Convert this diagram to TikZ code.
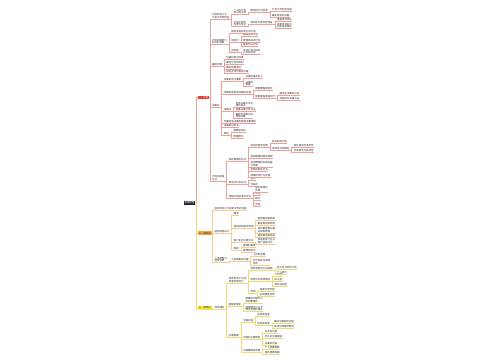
\documentclass[tikz,border=0pt]{standalone}
\usepackage{fontspec}
\newfontfamily\cjk{Noto Sans CJK SC}
\usepackage{tikz}

\definecolor{rootc}{HTML}{1F2233}
\definecolor{planc}{HTML}{E8382F}
\definecolor{planl}{HTML}{F0A09A}
\definecolor{orgc}{HTML}{F4A43A}
\definecolor{orgl}{HTML}{F6CC90}
\definecolor{leadc}{HTML}{F5E43A}
\definecolor{leadl}{HTML}{ECDD72}

\tikzset{
  topic/.style={anchor=west, inner sep=0.4mm, align=left, text=black!85,
    font=\cjk\fontsize{7}{7.3}\selectfont},
  rootbox/.style={fill=rootc, text=white, inner sep=0.8mm,
    font=\cjk\fontsize{7}{7.3}\selectfont},
  branchbox/.style={anchor=west, inner sep=0.7mm,
    font=\cjk\fontsize{7}{7.3}\selectfont},
  planline/.style={draw=planl, line width=0.3mm},
  orgline/.style={draw=orgl, line width=0.3mm},
  leadline/.style={draw=leadl, line width=0.3mm},
}

\begin{document}
\begin{tikzpicture}[x=1mm, y=-1mm]

    \path[use as bounding box] (0,0) rectangle (500,360);

    \node[rootbox] (root) at (189.5,203) {管理原理};

    \node[branchbox, fill=planc, text=white, xshift=2.5mm] (plan) at (root.east |- 0,97.5) {一、计划};
    \node[branchbox, fill=orgc, text=black!85, xshift=2.5mm] (org) at (root.east |- 0,233.2) {二、组织论};
    \node[branchbox, fill=leadc, text=black!85, xshift=2.5mm] (lead) at (root.east |- 0,308) {三、领导论};

    % plan
    \node[topic, xshift=2.5mm] (p1) at (plan.east |- 0,16) {计划的含义与\\计划工作的特征};
    \node[topic, xshift=3.5mm] (p1a) at (p1.east |- 0,11.5) {广义的计划\\狭义的计划};
    \node[topic, xshift=3.5mm] (p1a1) at (p1a.east |- 0,11) {制定执行与检查};
    \node[topic, xshift=3.5mm] (p1a1a) at (p1a1.east |- 0,10) {计划工作的全过程};
    \node[topic, xshift=3.5mm] (p1a1b) at (p1a1.east |- 0,15.5) {确定目标的过程};
    \node[topic, xshift=3.5mm] (p1b) at (p1.east |- 0,23.5) {计划工作的\\性质与特点};
    \node[topic, xshift=3.5mm] (p1b1) at (p1b.east |- 0,23) {目的性与首位性特征};
    \node[topic, xshift=3.5mm] (p1b1a) at (p1b1.east |- 0,20) {普遍性的特征};
    \node[topic, xshift=3.5mm] (p1b1b) at (p1b1.east |- 0,25.5) {效率性特征与\\创新性的特征};

    \node[topic, xshift=2.5mm] (p2) at (plan.east |- 0,41.5) {计划的种类与\\划分的标准};
    \node[topic, xshift=3.5mm] (p2a) at (p2.east |- 0,32) {按时间长短划分的计划};
    \node[topic, xshift=3.5mm] (p2b) at (p2.east |- 0,41) {按层次};
    \node[topic, xshift=3.5mm] (p2b1) at (p2b.east |- 0,35) {战略性的计划};
    \node[topic, xshift=3.5mm] (p2b2) at (p2b.east |- 0,40.3) {管理层战术计划};
    \node[topic, xshift=3.5mm] (p2b3) at (p2b.east |- 0,45) {基层作业计划};
    \node[topic, xshift=3.5mm] (p2c) at (p2.east |- 0,51) {按内容};
    \node[topic, xshift=3.5mm] (p2c1) at (p2c.east |- 0,51.5) {专项计划与综合\\计划的区别};

    \node[topic, xshift=2.5mm] (p3) at (plan.east |- 0,65) {编制步骤};
    \node[topic, xshift=3.5mm] (p3a) at (p3.east |- 0,57.7) {估量机会与环境};
    \node[topic, xshift=3.5mm] (p3b) at (p3.east |- 0,62.3) {确定计划的目标};
    \node[topic, xshift=3.5mm] (p3c) at (p3.east |- 0,67.3) {确定前提条件};
    \node[topic, xshift=3.5mm] (p3d) at (p3.east |- 0,71.7) {拟定并评价各种方案};

    \node[topic, xshift=2.5mm] (p4) at (plan.east |- 0,106) {决策论};
    \node[topic, xshift=3.5mm] (p4a) at (p4.east |- 0,80) {决策的含义要素};
    \node[topic, xshift=3.5mm] (p4a1) at (p4a.east |- 0,77) {决策的基本定义};
    \node[topic, xshift=3.5mm] (p4a2) at (p4a.east |- 0,83.5) {决策的\\要素};
    \node[topic, xshift=3.5mm] (p4b) at (p4.east |- 0,92.3) {决策的类型及决策的过程};
    \node[topic, xshift=3.5mm] (p4b1) at (p4b.east |- 0,89) {按重要程度划分};
    \node[topic, xshift=3.5mm] (p4b2) at (p4b.east |- 0,96.3) {按重复程度来划分};
    \node[topic, xshift=3.5mm] (p4b2a) at (p4b2.east |- 0,93.3) {程序化决策的方法};
    \node[topic, xshift=3.5mm] (p4b2b) at (p4b2.east |- 0,98.3) {非程序化决策方法};
    \node[topic, xshift=3.5mm] (p4c) at (p4.east |- 0,110) {决策法};
    \node[topic, xshift=3.5mm] (p4c1) at (p4c.east |- 0,104.5) {定性决策方法与\\德尔菲法};
    \node[topic, xshift=3.5mm] (p4c2) at (p4c.east |- 0,110) {定量决策分析方法};
    \node[topic, xshift=3.5mm] (p4c3) at (p4c.east |- 0,115.5) {确定型决策与风\\险型决策};
    \node[topic, xshift=3.5mm] (p4d) at (p4.east |- 0,121.3) {不确定型决策的常用决策准则};
    \node[topic, xshift=3.5mm] (p4e) at (p4.east |- 0,126) {决策树分析法};
    \node[topic, xshift=3.5mm] (p4f) at (p4.east |- 0,133.3) {原则};
    \node[topic, xshift=3.5mm] (p4f1) at (p4f.east |- 0,131) {满意性原则};
    \node[topic, xshift=3.5mm] (p4f2) at (p4f.east |- 0,136.7) {层级原则};

    \node[topic, xshift=2.5mm] (p5) at (plan.east |- 0,178) {计划的实施\\方法};
    \node[topic, xshift=3.5mm] (p5a) at (p5.east |- 0,160) {目标管理的方法};
    \node[topic, xshift=3.5mm] (p5a1) at (p5a.east |- 0,145.5) {目标的基本性质};
    \node[topic, xshift=3.5mm] (p5a1a) at (p5a1.east |- 0,142) {目标的层次性};
    \node[topic, xshift=3.5mm] (p5a1b) at (p5a1.east |- 0,149) {多样性与网络性};
    \node[topic, xshift=3.5mm] (p5a1b1) at (p5a1b.east |- 0,146) {目标具有可考核性};
    \node[topic, xshift=3.5mm] (p5a1b2) at (p5a1b.east |- 0,151) {可接受性与挑战性};
    \node[topic, xshift=3.5mm] (p5a2) at (p5a.east |- 0,156.7) {目标管理的基本思想};
    \node[topic, xshift=3.5mm] (p5a3) at (p5a.east |- 0,164) {目标管理的实施过程\\与步骤};
    \node[topic, xshift=3.5mm] (p5a4) at (p5a.east |- 0,170) {目标的制定方法};
    \node[topic, xshift=3.5mm] (p5a5) at (p5a.east |- 0,175.2) {成果的评价与反馈};
    \node[topic, xshift=3.5mm] (p5b) at (p5.east |- 0,182.3) {滚动式计划方法};
    \node[topic, xshift=3.5mm] (p5b1) at (p5b.east |- 0,178.3) {特点};
    \node[topic, xshift=3.5mm] (p5b2) at (p5b.east |- 0,184.3) {优缺点};
    \node[topic, xshift=3.5mm] (p5c) at (p5.east |- 0,196.5) {网络计划技术的方法};
    \node[topic, xshift=3.5mm] (p5c1) at (p5c.east |- 0,189) {基本原理与\\步骤};
    \node[topic, xshift=3.5mm] (p5c2) at (p5c.east |- 0,194) {优点};
    \node[topic, xshift=3.5mm] (p5c3) at (p5c.east |- 0,199) {缺点};
    \node[topic, xshift=3.5mm] (p5c4) at (p5c.east |- 0,204.5) {应用};

    % org
    \node[topic, xshift=2.5mm] (o1) at (org.east |- 0,209) {组织的含义与组织工作的内容};
    \node[topic, xshift=2.5mm] (o2) at (org.east |- 0,231.3) {组织结构设计};
    \node[topic, xshift=3.5mm] (o2a) at (o2.east |- 0,214) {概述};
    \node[topic, xshift=3.5mm] (o2b) at (o2.east |- 0,227) {组织结构基本类型};
    \node[topic, xshift=3.5mm] (o2b1) at (o2b.east |- 0,219) {直线制组织结构};
    \node[topic, xshift=3.5mm] (o2b2) at (o2b.east |- 0,224) {职能制组织结构};
    \node[topic, xshift=3.5mm] (o2b3) at (o2b.east |- 0,230.3) {直线职能制与事\\业部制结构};
    \node[topic, xshift=3.5mm] (o2b4) at (o2b.east |- 0,235.5) {矩阵制组织结构};
    \node[topic, xshift=3.5mm] (o2c) at (o2.east |- 0,240.5) {部门化的主要方式};
    \node[topic, xshift=3.5mm] (o2c1) at (o2c.east |- 0,241) {按职能部门化与\\按产品部门化};
    \node[topic, xshift=3.5mm] (o2d) at (o2.east |- 0,248.5) {层级};
    \node[topic, xshift=3.5mm] (o2d1) at (o2d.east |- 0,246) {管理的幅度};
    \node[topic, xshift=3.5mm] (o2d2) at (o2d.east |- 0,251) {管理的层次};
    \node[topic, xshift=2.5mm] (o3) at (org.east |- 0,259.5) {人员配备与\\组织变革};
    \node[topic, xshift=3.5mm] (o3a) at (o3.east |- 0,259.3) {人员配备的内容};
    \node[topic, xshift=3.5mm] (o3a1) at (o3a.east |- 0,255) {人员的选聘};
    \node[topic, xshift=3.5mm] (o3a2) at (o3a.east |- 0,262) {员工培训与绩效\\考评};

    % lead
    \node[topic, xshift=2.5mm] (l1) at (lead.east |- 0,307.7) {领导理论};
    \node[topic, xshift=3.5mm] (l1a) at (l1.east |- 0,280) {领导的含义与领\\导者的影响力};
    \node[topic, xshift=3.5mm] (l1a1) at (l1a.east |- 0,269) {领导者影响力的来源};
    \node[topic, xshift=3.5mm] (l1a1a) at (l1a1.east |- 0,267.5) {权力性与非权力性};
    \node[topic, xshift=3.5mm] (l1a1b) at (l1a1.east |- 0,272.5) {个人魅力};
    \node[topic, xshift=3.5mm] (l1a2) at (l1a.east |- 0,280) {领导方式及其理论};
    \node[topic, xshift=3.5mm] (l1a2a) at (l1a2.east |- 0,275) {专制型};
    \node[topic, xshift=3.5mm] (l1a2b) at (l1a2.east |- 0,280) {民主型};
    \node[topic, xshift=3.5mm] (l1a2c) at (l1a2.east |- 0,285) {放任自由型};
    \node[topic, xshift=3.5mm] (l1a3) at (l1a.east |- 0,292) {作用};
    \node[topic, xshift=3.5mm] (l1a3a) at (l1a3.east |- 0,289.3) {指挥引导作用};
    \node[topic, xshift=3.5mm] (l1a3b) at (l1a3.east |- 0,294.3) {协调激励作用};
    \node[topic, xshift=3.5mm] (l1b) at (l1.east |- 0,304.3) {激励的理论};
    \node[topic, xshift=3.5mm] (l1b1) at (l1b.east |- 0,300) {需要层次理论与\\双因素理论};
    \node[topic, xshift=3.5mm] (l1b2) at (l1b.east |- 0,308.5) {期望理论与公平\\理论及强化理论};
    \node[topic, xshift=3.5mm] (l1c) at (l1.east |- 0,335.8) {沟通管理};
    \node[topic, xshift=3.5mm] (l1c1) at (l1c.east |- 0,321) {沟通过程};
    \node[topic, xshift=3.5mm] (l1c1a) at (l1c1.east |- 0,315) {信息发送者};
    \node[topic, xshift=3.5mm] (l1c1b) at (l1c1.east |- 0,324) {信息接收者};
    \node[topic, xshift=3.5mm] (l1c1b1) at (l1c1b.east |- 0,321.7) {编码与解码的过程};
    \node[topic, xshift=3.5mm] (l1c1b2) at (l1c1b.east |- 0,326.7) {反馈与噪音的影响};
    \node[topic, xshift=3.5mm] (l1c2) at (l1c.east |- 0,338) {沟通的主要类型};
    \node[topic, xshift=3.5mm] (l1c2a) at (l1c2.east |- 0,331.7) {正式的沟通};
    \node[topic, xshift=3.5mm] (l1c2b) at (l1c2.east |- 0,336.7) {非正式沟通渠道};
    \node[topic, xshift=3.5mm] (l1c2c) at (l1c2.east |- 0,343.3) {书面的沟通};
    \node[topic, xshift=3.5mm] (l1c3) at (l1c.east |- 0,351) {沟通障碍及克服};
    \node[topic, xshift=3.5mm] (l1c3a) at (l1c3.east |- 0,347.7) {个人因素障碍};
    \node[topic, xshift=3.5mm] (l1c3b) at (l1c3.east |- 0,352.7) {组织因素障碍};

    % connectors
    \draw[planline] (root.east) -- ++(1.2,0) |- (plan.west);
    \draw[orgline] (root.east) -- ++(1.2,0) |- (org.west);
    \draw[leadline] (root.east) -- ++(1.2,0) |- (lead.west);

    \draw[planline] (plan.east) -- ++(1,0) |- (p1.south west) -- (p1.south east);
    \draw[planline] (plan.east) -- ++(1,0) |- (p2.south west) -- (p2.south east);
    \draw[planline] (plan.east) -- ++(1,0) |- (p3.south west) -- (p3.south east);
    \draw[planline] (plan.east) -- ++(1,0) |- (p4.south west) -- (p4.south east);
    \draw[planline] (plan.east) -- ++(1,0) |- (p5.south west) -- (p5.south east);
    \draw[planline] (p1.south east) -- ++(1.6,0) |- (p1a.south west) -- (p1a.south east);
    \draw[planline] (p1.south east) -- ++(1.6,0) |- (p1b.south west) -- (p1b.south east);
    \draw[planline] (p1a.south east) -- ++(1.6,0) |- (p1a1.south west) -- (p1a1.south east);
    \draw[planline] (p1a1.south east) -- ++(1.6,0) |- (p1a1a.south west) -- (p1a1a.south east);
    \draw[planline] (p1a1.south east) -- ++(1.6,0) |- (p1a1b.south west) -- (p1a1b.south east);
    \draw[planline] (p1b.south east) -- ++(1.6,0) |- (p1b1.south west) -- (p1b1.south east);
    \draw[planline] (p1b1.south east) -- ++(1.6,0) |- (p1b1a.south west) -- (p1b1a.south east);
    \draw[planline] (p1b1.south east) -- ++(1.6,0) |- (p1b1b.south west) -- (p1b1b.south east);
    \draw[planline] (p2.south east) -- ++(1.6,0) |- (p2a.south west) -- (p2a.south east);
    \draw[planline] (p2.south east) -- ++(1.6,0) |- (p2b.south west) -- (p2b.south east);
    \draw[planline] (p2.south east) -- ++(1.6,0) |- (p2c.south west) -- (p2c.south east);
    \draw[planline] (p2b.south east) -- ++(1.6,0) |- (p2b1.south west) -- (p2b1.south east);
    \draw[planline] (p2b.south east) -- ++(1.6,0) |- (p2b2.south west) -- (p2b2.south east);
    \draw[planline] (p2b.south east) -- ++(1.6,0) |- (p2b3.south west) -- (p2b3.south east);
    \draw[planline] (p2c.south east) -- ++(1.6,0) |- (p2c1.south west) -- (p2c1.south east);
    \draw[planline] (p3.south east) -- ++(1.6,0) |- (p3a.south west) -- (p3a.south east);
    \draw[planline] (p3.south east) -- ++(1.6,0) |- (p3b.south west) -- (p3b.south east);
    \draw[planline] (p3.south east) -- ++(1.6,0) |- (p3c.south west) -- (p3c.south east);
    \draw[planline] (p3.south east) -- ++(1.6,0) |- (p3d.south west) -- (p3d.south east);
    \draw[planline] (p4.south east) -- ++(1.6,0) |- (p4a.south west) -- (p4a.south east);
    \draw[planline] (p4.south east) -- ++(1.6,0) |- (p4b.south west) -- (p4b.south east);
    \draw[planline] (p4.south east) -- ++(1.6,0) |- (p4c.south west) -- (p4c.south east);
    \draw[planline] (p4.south east) -- ++(1.6,0) |- (p4d.south west) -- (p4d.south east);
    \draw[planline] (p4.south east) -- ++(1.6,0) |- (p4e.south west) -- (p4e.south east);
    \draw[planline] (p4.south east) -- ++(1.6,0) |- (p4f.south west) -- (p4f.south east);
    \draw[planline] (p4a.south east) -- ++(1.6,0) |- (p4a1.south west) -- (p4a1.south east);
    \draw[planline] (p4a.south east) -- ++(1.6,0) |- (p4a2.south west) -- (p4a2.south east);
    \draw[planline] (p4b.south east) -- ++(1.6,0) |- (p4b1.south west) -- (p4b1.south east);
    \draw[planline] (p4b.south east) -- ++(1.6,0) |- (p4b2.south west) -- (p4b2.south east);
    \draw[planline] (p4b2.south east) -- ++(1.6,0) |- (p4b2a.south west) -- (p4b2a.south east);
    \draw[planline] (p4b2.south east) -- ++(1.6,0) |- (p4b2b.south west) -- (p4b2b.south east);
    \draw[planline] (p4c.south east) -- ++(1.6,0) |- (p4c1.south west) -- (p4c1.south east);
    \draw[planline] (p4c.south east) -- ++(1.6,0) |- (p4c2.south west) -- (p4c2.south east);
    \draw[planline] (p4c.south east) -- ++(1.6,0) |- (p4c3.south west) -- (p4c3.south east);
    \draw[planline] (p4f.south east) -- ++(1.6,0) |- (p4f1.south west) -- (p4f1.south east);
    \draw[planline] (p4f.south east) -- ++(1.6,0) |- (p4f2.south west) -- (p4f2.south east);
    \draw[planline] (p5.south east) -- ++(1.6,0) |- (p5a.south west) -- (p5a.south east);
    \draw[planline] (p5.south east) -- ++(1.6,0) |- (p5b.south west) -- (p5b.south east);
    \draw[planline] (p5.south east) -- ++(1.6,0) |- (p5c.south west) -- (p5c.south east);
    \draw[planline] (p5a.south east) -- ++(1.6,0) |- (p5a1.south west) -- (p5a1.south east);
    \draw[planline] (p5a.south east) -- ++(1.6,0) |- (p5a2.south west) -- (p5a2.south east);
    \draw[planline] (p5a.south east) -- ++(1.6,0) |- (p5a3.south west) -- (p5a3.south east);
    \draw[planline] (p5a.south east) -- ++(1.6,0) |- (p5a4.south west) -- (p5a4.south east);
    \draw[planline] (p5a.south east) -- ++(1.6,0) |- (p5a5.south west) -- (p5a5.south east);
    \draw[planline] (p5a1.south east) -- ++(1.6,0) |- (p5a1a.south west) -- (p5a1a.south east);
    \draw[planline] (p5a1.south east) -- ++(1.6,0) |- (p5a1b.south west) -- (p5a1b.south east);
    \draw[planline] (p5a1b.south east) -- ++(1.6,0) |- (p5a1b1.south west) -- (p5a1b1.south east);
    \draw[planline] (p5a1b.south east) -- ++(1.6,0) |- (p5a1b2.south west) -- (p5a1b2.south east);
    \draw[planline] (p5b.south east) -- ++(1.6,0) |- (p5b1.south west) -- (p5b1.south east);
    \draw[planline] (p5b.south east) -- ++(1.6,0) |- (p5b2.south west) -- (p5b2.south east);
    \draw[planline] (p5c.south east) -- ++(1.6,0) |- (p5c1.south west) -- (p5c1.south east);
    \draw[planline] (p5c.south east) -- ++(1.6,0) |- (p5c2.south west) -- (p5c2.south east);
    \draw[planline] (p5c.south east) -- ++(1.6,0) |- (p5c3.south west) -- (p5c3.south east);
    \draw[planline] (p5c.south east) -- ++(1.6,0) |- (p5c4.south west) -- (p5c4.south east);

    \draw[orgline] (org.east) -- ++(1,0) |- (o1.south west) -- (o1.south east);
    \draw[orgline] (org.east) -- ++(1,0) |- (o2.south west) -- (o2.south east);
    \draw[orgline] (org.east) -- ++(1,0) |- (o3.south west) -- (o3.south east);
    \draw[orgline] (o2.south east) -- ++(1.6,0) |- (o2a.south west) -- (o2a.south east);
    \draw[orgline] (o2.south east) -- ++(1.6,0) |- (o2b.south west) -- (o2b.south east);
    \draw[orgline] (o2.south east) -- ++(1.6,0) |- (o2c.south west) -- (o2c.south east);
    \draw[orgline] (o2.south east) -- ++(1.6,0) |- (o2d.south west) -- (o2d.south east);
    \draw[orgline] (o2b.south east) -- ++(1.6,0) |- (o2b1.south west) -- (o2b1.south east);
    \draw[orgline] (o2b.south east) -- ++(1.6,0) |- (o2b2.south west) -- (o2b2.south east);
    \draw[orgline] (o2b.south east) -- ++(1.6,0) |- (o2b3.south west) -- (o2b3.south east);
    \draw[orgline] (o2b.south east) -- ++(1.6,0) |- (o2b4.south west) -- (o2b4.south east);
    \draw[orgline] (o2c.south east) -- ++(1.6,0) |- (o2c1.south west) -- (o2c1.south east);
    \draw[orgline] (o2d.south east) -- ++(1.6,0) |- (o2d1.south west) -- (o2d1.south east);
    \draw[orgline] (o2d.south east) -- ++(1.6,0) |- (o2d2.south west) -- (o2d2.south east);
    \draw[orgline] (o3.south east) -- ++(1.6,0) |- (o3a.south west) -- (o3a.south east);
    \draw[orgline] (o3a.south east) -- ++(1.6,0) |- (o3a1.south west) -- (o3a1.south east);
    \draw[orgline] (o3a.south east) -- ++(1.6,0) |- (o3a2.south west) -- (o3a2.south east);

    \draw[leadline] (lead.east) -- ++(1,0) |- (l1.south west) -- (l1.south east);
    \draw[leadline] (l1.south east) -- ++(1.6,0) |- (l1a.south west) -- (l1a.south east);
    \draw[leadline] (l1.south east) -- ++(1.6,0) |- (l1b.south west) -- (l1b.south east);
    \draw[leadline] (l1.south east) -- ++(1.6,0) |- (l1c.south west) -- (l1c.south east);
    \draw[leadline] (l1a.south east) -- ++(1.6,0) |- (l1a1.south west) -- (l1a1.south east);
    \draw[leadline] (l1a.south east) -- ++(1.6,0) |- (l1a2.south west) -- (l1a2.south east);
    \draw[leadline] (l1a.south east) -- ++(1.6,0) |- (l1a3.south west) -- (l1a3.south east);
    \draw[leadline] (l1a1.south east) -- ++(1.6,0) |- (l1a1a.south west) -- (l1a1a.south east);
    \draw[leadline] (l1a1.south east) -- ++(1.6,0) |- (l1a1b.south west) -- (l1a1b.south east);
    \draw[leadline] (l1a2.south east) -- ++(1.6,0) |- (l1a2a.south west) -- (l1a2a.south east);
    \draw[leadline] (l1a2.south east) -- ++(1.6,0) |- (l1a2b.south west) -- (l1a2b.south east);
    \draw[leadline] (l1a2.south east) -- ++(1.6,0) |- (l1a2c.south west) -- (l1a2c.south east);
    \draw[leadline] (l1a3.south east) -- ++(1.6,0) |- (l1a3a.south west) -- (l1a3a.south east);
    \draw[leadline] (l1a3.south east) -- ++(1.6,0) |- (l1a3b.south west) -- (l1a3b.south east);
    \draw[leadline] (l1b.south east) -- ++(1.6,0) |- (l1b1.south west) -- (l1b1.south east);
    \draw[leadline] (l1b.south east) -- ++(1.6,0) |- (l1b2.south west) -- (l1b2.south east);
    \draw[leadline] (l1c.south east) -- ++(1.6,0) |- (l1c1.south west) -- (l1c1.south east);
    \draw[leadline] (l1c.south east) -- ++(1.6,0) |- (l1c2.south west) -- (l1c2.south east);
    \draw[leadline] (l1c.south east) -- ++(1.6,0) |- (l1c3.south west) -- (l1c3.south east);
    \draw[leadline] (l1c1.south east) -- ++(1.6,0) |- (l1c1a.south west) -- (l1c1a.south east);
    \draw[leadline] (l1c1.south east) -- ++(1.6,0) |- (l1c1b.south west) -- (l1c1b.south east);
    \draw[leadline] (l1c1b.south east) -- ++(1.6,0) |- (l1c1b1.south west) -- (l1c1b1.south east);
    \draw[leadline] (l1c1b.south east) -- ++(1.6,0) |- (l1c1b2.south west) -- (l1c1b2.south east);
    \draw[leadline] (l1c2.south east) -- ++(1.6,0) |- (l1c2a.south west) -- (l1c2a.south east);
    \draw[leadline] (l1c2.south east) -- ++(1.6,0) |- (l1c2b.south west) -- (l1c2b.south east);
    \draw[leadline] (l1c2.south east) -- ++(1.6,0) |- (l1c2c.south west) -- (l1c2c.south east);
    \draw[leadline] (l1c3.south east) -- ++(1.6,0) |- (l1c3a.south west) -- (l1c3a.south east);
    \draw[leadline] (l1c3.south east) -- ++(1.6,0) |- (l1c3b.south west) -- (l1c3b.south east);

\end{tikzpicture}
\end{document}
